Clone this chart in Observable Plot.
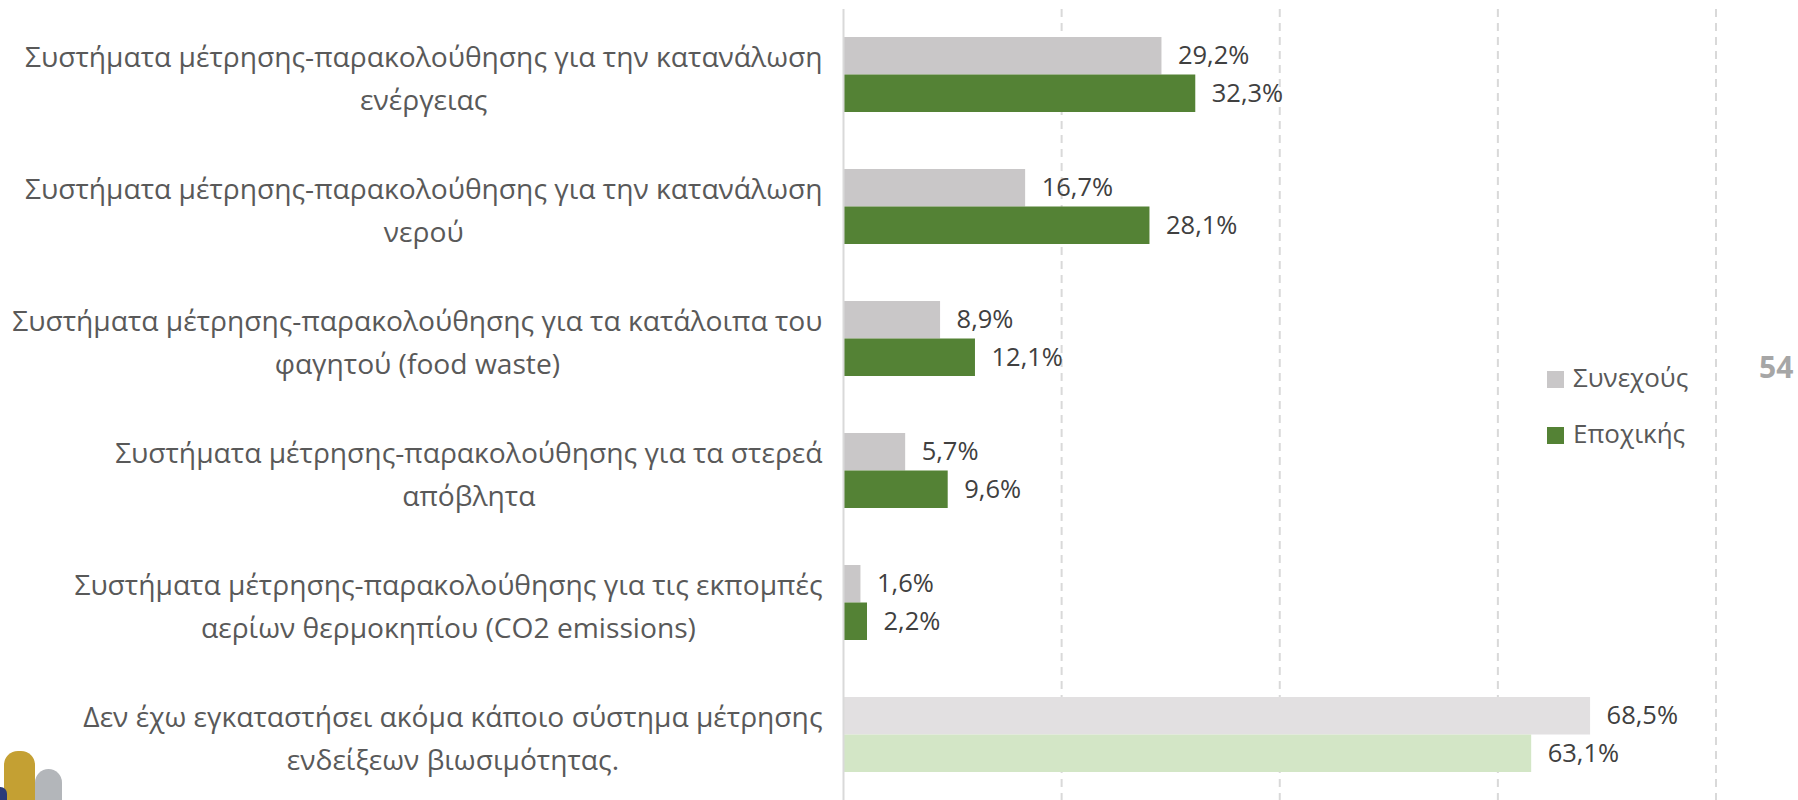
<!DOCTYPE html>
<html>
<head>
<meta charset="utf-8">
<script src="https://cdn.jsdelivr.net/npm/d3@7"></script>
<script src="https://cdn.jsdelivr.net/npm/@observablehq/plot@0.6"></script>
<style>
  html, body { margin: 0; padding: 0; background: #ffffff; }
  #wrap { position: relative; width: 1798px; height: 800px; overflow: hidden; font-family: "Open Sans", sans-serif; }
  #chart svg { display: block; }
  .legend { position: absolute; left: 1547px; top: 349px; font-size: 26px; color: #595959; line-height: 56px; }
  .legend .item { display: flex; align-items: center; white-space: nowrap; }
  .legend .sw { width: 17px; height: 17px; margin-right: 9px; margin-top: 4px; }
  .page { position: absolute; left: 1759px; top: 346px; font-size: 30px; font-weight: 700; color: #a6a6a6; }
  .logo div { position: absolute; border-radius: 14px 14px 0 0; }
</style>
</head>
<body>
<div id="wrap">
  <div id="chart"></div>
  <div class="legend" id="legend"></div>
  <div class="page" id="page"></div>
  <div class="logo">
    <div style="left:4px;top:751px;width:31px;height:60px;background:#c4a033;"></div>
    <div style="left:35px;top:769px;width:27px;height:40px;background:#b3b6ba;"></div>
    <div style="left:-6px;top:787px;width:13px;height:20px;background:#2b3a7a;border-radius:8px 8px 0 0;"></div>
  </div>
</div>
<script>
// ---- data ----
const categories = [
  "Συστήματα μέτρησης-παρακολούθησης για την κατανάλωση\nενέργειας",
  "Συστήματα μέτρησης-παρακολούθησης για την κατανάλωση\nνερού",
  "Συστήματα μέτρησης-παρακολούθησης για τα κατάλοιπα του\nφαγητού (food waste)",
  "Συστήματα μέτρησης-παρακολούθησης για τα στερεά\nαπόβλητα",
  "Συστήματα μέτρησης-παρακολούθησης για τις εκπομπές\nαερίων θερμοκηπίου (CO2 emissions)",
  "Δεν έχω εγκαταστήσει ακόμα κάποιο σύστημα μέτρησης\nενδείξεων βιωσιμότητας."
];
const seriesNames = ["Συνεχούς", "Εποχικής"];
const continuousValues = [29.2, 16.7, 8.9, 5.7, 1.6, 68.5];
const seasonalValues = [32.3, 28.1, 12.1, 9.6, 2.2, 63.1];
const gridTicks = [20, 40, 60, 80];
const pageNumber = "54";

// ---- styles ----
const grayColor = "#c9c7c8";
const greenColor = "#548235";
const lightGray = "#e2e0e1";
const lightGreen = "#d3e6c6";
const highlighted = categories[categories.length - 1];

const rowsC = categories.map((c, i) => ({category: c, series: seriesNames[0], value: continuousValues[i]}));
const rowsS = categories.map((c, i) => ({category: c, series: seriesNames[1], value: seasonalValues[i]}));
const fmt = v => v.toFixed(1).replace(".", ",") + "%";

const W = 1798, H = 800;
const marginLeft = 843, marginRight = 82.5, marginTop = 9, marginBottom = 0;
const labelFont = 28.2;
const labelGap = 21;
const halfBand = 37.5;

// measure label widths
const ctx = document.createElement("canvas").getContext("2d");
ctx.font = `${labelFont}px "Open Sans"`;
const labelMarks = categories.map(c => {
  const w = d3.max(c.split("\n"), l => ctx.measureText(l).width);
  return Plot.text([c], {
    y: d => d,
    text: d => d,
    frameAnchor: "left",
    dx: -(labelGap + w / 2),
    textAnchor: "middle",
    lineAnchor: "middle",
    lineHeight: 43 / labelFont,
    fontSize: labelFont,
    fill: "#595959"
  });
});

const chart = Plot.plot({
  width: W,
  height: H,
  marginLeft, marginRight, marginTop, marginBottom,
  style: {fontFamily: '"Open Sans", sans-serif', background: "#ffffff"},
  x: {domain: [0, 80], axis: null},
  y: {domain: categories, axis: null, paddingInner: 0.434, paddingOuter: 0.202},
  color: {type: "identity"},
  marks: [
    Plot.ruleX(gridTicks, {stroke: "#d9d9d9", strokeWidth: 2, strokeDasharray: "8,6"}),
    Plot.barX(rowsC, {x: "value", y: "category", fill: d => d.category === highlighted ? lightGray : grayColor, insetBottom: halfBand}),
    Plot.barX(rowsS, {x: "value", y: "category", fill: d => d.category === highlighted ? lightGreen : greenColor, insetTop: halfBand}),
    Plot.ruleX([0], {stroke: "#d9d9d9", strokeWidth: 2}),
    Plot.text(rowsC, {x: "value", y: "category", text: d => fmt(d.value), dx: 16, dy: -halfBand / 2, textAnchor: "start", fontSize: 25.5, fill: "#404040"}),
    Plot.text(rowsS, {x: "value", y: "category", text: d => fmt(d.value), dx: 16, dy: halfBand / 2, textAnchor: "start", fontSize: 25.5, fill: "#404040"}),
    ...labelMarks
  ]
});
document.getElementById("chart").appendChild(chart);

// legend
const legend = document.getElementById("legend");
[[seriesNames[0], grayColor], [seriesNames[1], greenColor]].forEach(([name, col]) => {
  const it = document.createElement("div");
  it.className = "item";
  const sw = document.createElement("span");
  sw.className = "sw";
  sw.style.background = col;
  const tx = document.createElement("span");
  tx.textContent = name;
  it.appendChild(sw); it.appendChild(tx);
  legend.appendChild(it);
});
document.getElementById("page").textContent = pageNumber;
</script>
</body>
</html>
